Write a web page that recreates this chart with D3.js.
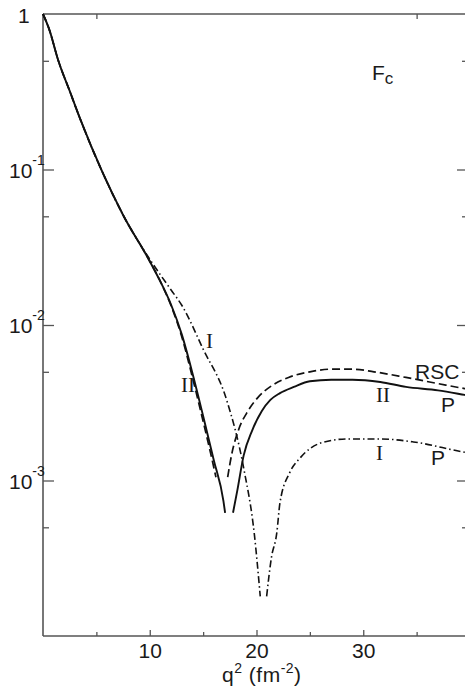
<!DOCTYPE html>
<html>
<head>
<meta charset="utf-8">
<script src="https://cdn.jsdelivr.net/npm/d3@7"></script>
<style>
  html, body { margin: 0; padding: 0; background: #fff; }
  svg { display: block; }
  text { fill: #1a1a1a; }
</style>
</head>
<body>
<svg id="chart" width="465" height="689"></svg>
<script>
// Charge form factor F_c versus momentum transfer q^2 (fm^-2), log scale.
// Each curve is split at its diffraction zero into a left and right branch.

const xTicksMajor = [10, 20, 30];
const xTicksMinor = [5, 15, 25, 35];
const yTicksMajor = [1e-1, 1e-2, 1e-3];
const yTicksMinor = [5e-1, 5e-2, 5e-3, 5e-4];
const yTickLabels = [
  { v: 1, base: "1", exp: "" },
  { v: 1e-1, base: "10", exp: "-1" },
  { v: 1e-2, base: "10", exp: "-2" },
  { v: 1e-3, base: "10", exp: "-3" }
];

// RSC (dashed)
const rscQ2Left = [0, 0.6, 1.4, 2.5, 3.5, 5.6, 7.5, 10, 11, 12, 13, 14, 15, 15.7, 16.2];
const rscFLeft  = [1, 0.79, 0.51, 0.32, 0.21, 0.095, 0.051, 0.0257, 0.019, 0.0133, 0.0084, 0.0046, 0.0024, 0.0015, 0.00105];
const rscQ2Right = [17.3, 17.7, 18.3, 19.2, 20.1, 21.5, 23, 25, 27, 29, 31, 34, 37, 39.5, 40];
const rscFRight  = [0.00105, 0.0015, 0.0021, 0.0028, 0.0034, 0.0041, 0.0046, 0.0050, 0.0052, 0.0052, 0.0050, 0.0046, 0.0042, 0.0039, 0.00385];

// II (solid)
const iiQ2Left = [0, 0.6, 1.4, 2.5, 3.5, 5.6, 7.5, 10, 11, 12, 13, 14, 15, 16, 16.9, 17.06];
const iiFLeft  = [1, 0.79, 0.51, 0.32, 0.21, 0.095, 0.051, 0.0257, 0.019, 0.0135, 0.0087, 0.0049, 0.0026, 0.00135, 0.00074, 0.00062];
const iiQ2Right = [17.8, 18.2, 18.8, 19.6, 20.5, 21.3, 22.2, 23.5, 25, 27, 29, 31.6, 34, 37, 39.5, 40];
const iiFRight  = [0.00062, 0.00086, 0.00145, 0.0021, 0.0028, 0.0033, 0.00365, 0.0040, 0.00435, 0.00445, 0.00445, 0.0043, 0.0040, 0.0038, 0.00355, 0.0035];

// I (dash-dot)
const iQ2Left = [0, 0.6, 1.4, 2.5, 3.5, 5.6, 7.5, 10, 11, 12, 13, 15, 17.2, 18.8, 19.8, 20.35];
const iFLeft  = [1, 0.79, 0.51, 0.32, 0.21, 0.095, 0.051, 0.0265, 0.021, 0.0168, 0.0134, 0.0070, 0.0033, 0.0012, 0.00045, 0.00018];
const iQ2Right = [20.95, 21.4, 21.9, 22.2, 23.1, 24.1, 26, 28.5, 31.6, 34.7, 39.5, 40];
const iFRight  = [0.00018, 0.00032, 0.00046, 0.00072, 0.00112, 0.0014, 0.00174, 0.00185, 0.00185, 0.00177, 0.00152, 0.0015];

const svg = d3.select("#chart");
const x = d3.scaleLinear().domain([0, 40]).range([43, 470]);
const y = d3.scaleLog().domain([1e-4, 1]).range([636, 14]);

const pts = (q, f) => q.map((d, i) => [d, f[i]]);
const line = d3.line().x(d => x(d[0])).y(d => y(d[1])).curve(d3.curveMonotoneX);

const axisColor = "#555";

// frame lines: left, bottom, top
const ax = svg.append("g").attr("stroke", axisColor).attr("stroke-width", 1.6).attr("fill", "none");
ax.append("line").attr("x1", x(0)).attr("x2", x(0)).attr("y1", y(1)).attr("y2", y(1e-4));
ax.append("line").attr("x1", x(0)).attr("x2", 465).attr("y1", y(1e-4)).attr("y2", y(1e-4));
ax.append("line").attr("x1", x(0)).attr("x2", 465).attr("y1", y(1)).attr("y2", y(1));

// vertical axis ticks (inward on both sides)
function yTicks(xPos, dir, values, size) {
  const g = svg.append("g").attr("transform", `translate(${xPos},0)`);
  const axis = (dir > 0 ? d3.axisRight(y) : d3.axisLeft(y))
    .tickValues(values).tickSize(size).tickFormat("");
  g.call(axis);
  g.select(".domain").remove();
  g.selectAll("line").attr("stroke", axisColor).attr("stroke-width", 1.3);
}
yTicks(x(0), 1, yTicksMajor, 11);
yTicks(x(0), 1, yTicksMinor, 6);
yTicks(466, -1, yTicksMajor, 9);
yTicks(466, -1, yTicksMinor, 4);

// horizontal axis ticks (inward)
function xTicks(yPos, dir, values, size) {
  const g = svg.append("g").attr("transform", `translate(0,${yPos})`);
  const axis = (dir < 0 ? d3.axisTop(x) : d3.axisBottom(x))
    .tickValues(values).tickSize(size).tickFormat("");
  g.call(axis);
  g.select(".domain").remove();
  g.selectAll("line").attr("stroke", axisColor).attr("stroke-width", 1.3);
}
xTicks(y(1e-4), -1, xTicksMajor, 6);
xTicks(y(1e-4), -1, xTicksMinor, 4);
xTicks(y(1), 1, [5, 35], 5);

// y tick labels with superscript exponents
const yl = svg.append("g").attr("font-family", "'Liberation Sans', Arial, sans-serif");
yTickLabels.forEach(t => {
  const tx = yl.append("text")
    .attr("x", t.exp ? 9 : 18)
    .attr("y", y(t.v) + (t.exp ? 8 : 9))
    .attr("font-size", 21);
  tx.append("tspan").text(t.base);
  if (t.exp) {
    tx.append("tspan").attr("font-size", 14).attr("dx", 0).attr("dy", -13).text(t.exp);
  }
});

// x tick labels
svg.append("g").selectAll("text").data(xTicksMajor).join("text")
  .attr("x", d => x(d) + 0.5)
  .attr("y", 658)
  .attr("text-anchor", "middle")
  .attr("font-family", "'Liberation Sans Narrow', 'Liberation Sans', Arial, sans-serif")
  .attr("font-size", 21)
  .text(d => d);

// x axis title q^2 (fm^-2)
const xt = svg.append("text")
  .attr("x", 222).attr("y", 682)
  .attr("font-family", "'Liberation Sans', Arial, sans-serif")
  .attr("letter-spacing", 0.5)
  .attr("font-size", 21);
xt.append("tspan").text("q");
xt.append("tspan").attr("font-size", 14).attr("dy", -9).text("2");
xt.append("tspan").attr("dy", 9).text(" (fm");
xt.append("tspan").attr("font-size", 14).attr("dy", -9).text("-2");
xt.append("tspan").attr("dy", 9).text(")");

// panel title F_c
const ft = svg.append("text")
  .attr("x", 372).attr("y", 80)
  .attr("font-family", "'Liberation Sans', Arial, sans-serif")
  .attr("font-size", 21);
ft.append("tspan").text("F");
ft.append("tspan").attr("font-size", 17).attr("dy", 4).text("c");

// curves
const curves = svg.append("g").attr("fill", "none").attr("stroke", "#111").attr("stroke-linecap", "butt");
const series = [
  { left: pts(rscQ2Left, rscFLeft), right: pts(rscQ2Right, rscFRight), dash: "8,4", w: 1.7 },
  { left: pts(iQ2Left, iFLeft), right: pts(iQ2Right, iFRight), dash: "7,3,1.5,3", w: 1.6 },
  { left: pts(iiQ2Left, iiFLeft), right: pts(iiQ2Right, iiFRight), dash: null, w: 1.9 }
];
series.forEach(s => {
  [s.left, s.right].forEach(branch => {
    curves.append("path")
      .attr("d", line(branch))
      .attr("stroke-width", s.w)
      .attr("stroke-dasharray", s.dash);
  });
});

// curve labels
const serif = "'Liberation Serif', 'DejaVu Serif', serif";
const sans = "'Liberation Sans', Arial, sans-serif";
const labels = [
  { t: "I", x: 206, y: 348, f: serif },
  { t: "II", x: 181, y: 392, f: serif },
  { t: "RSC", x: 415, y: 379, f: sans },
  { t: "II", x: 376, y: 402, f: serif },
  { t: "P", x: 441, y: 412, f: sans },
  { t: "I", x: 376, y: 460, f: serif },
  { t: "P", x: 431, y: 465, f: sans }
];
svg.append("g").selectAll("text").data(labels).join("text")
  .attr("x", d => d.x).attr("y", d => d.y)
  .attr("font-family", d => d.f)
  .attr("font-size", 21)
  .text(d => d.t);
</script>
</body>
</html>
